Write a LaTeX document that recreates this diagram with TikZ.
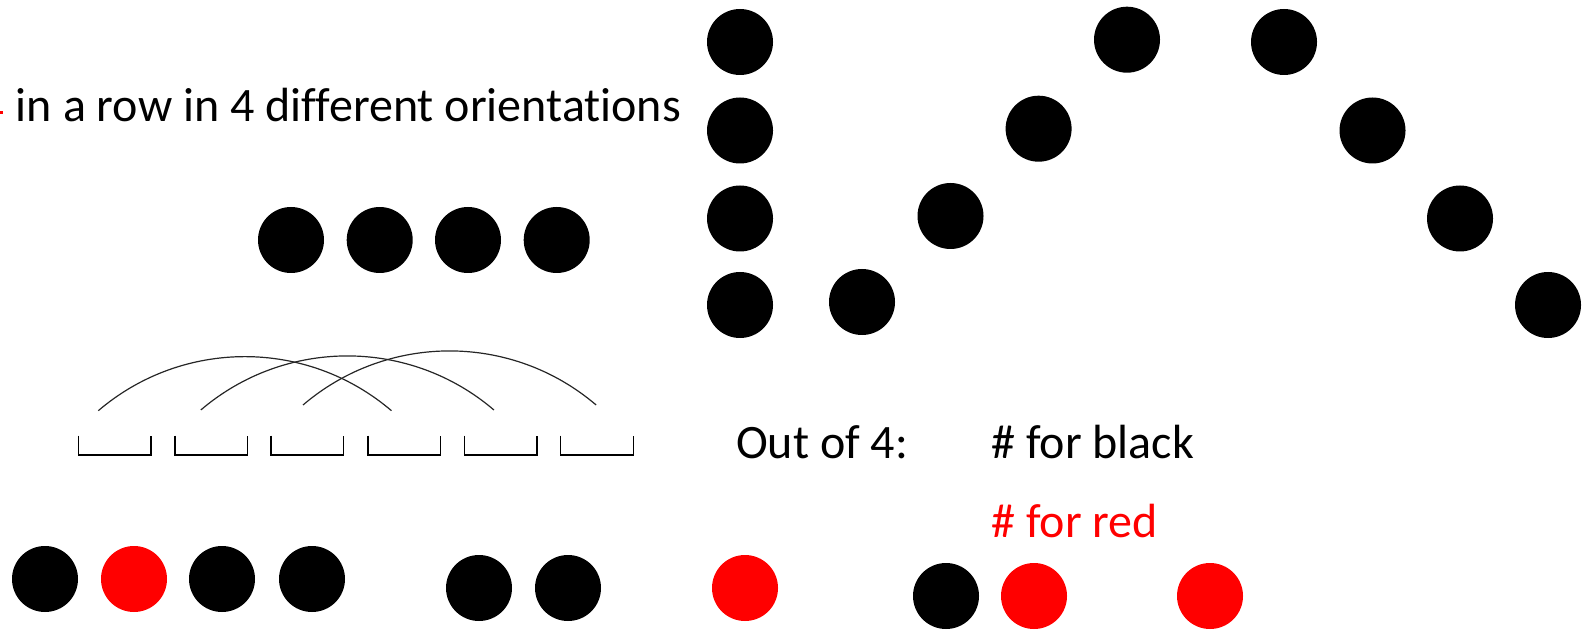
\documentclass[tikz,border=0pt]{standalone}
\usepackage{fontspec}
\setmainfont{Carlito}[Ligatures=NoCommon]
\definecolor{dotred}{RGB}{255,0,0}
\begin{document}
\begin{tikzpicture}[x=0.5pt,y=-0.5pt,
  dot/.style={circle,fill=black,minimum size=33pt,inner sep=0pt},
  reddot/.style={dot,fill=dotred},
  label/.style={inner sep=0pt,anchor=base west,font=\fontsize{24pt}{28pt}\selectfont},
  slot/.style={line width=0.75pt},
  hop/.style={line width=0.6pt,black!85}]
\useasboundingbox (0,0) rectangle (1582,630);

% tail of the red word that runs off the left edge
\fill[dotred] (0,111.5) rectangle (2.5,114);
\node[label] (heading) at (15.6,121.7) {in a row in 4 different orientations};

% four in a row, horizontal
\foreach \x [count=\i] in {291,379.7,468,556.7}
  \node[dot] (h\i) at (\x,240) {};

% vertical column
\foreach \y [count=\i] in {42,130.5,218.5,305}
  \node[dot] (v\i) at (740,\y) {};

% rising diagonal
\node[dot] (u1) at (862,302) {};
\node[dot] (u2) at (950.5,216) {};
\node[dot] (u3) at (1038.6,128.7) {};
\node[dot] (u4) at (1127,39.7) {};

% falling diagonal
\node[dot] (d1) at (1284,42) {};
\node[dot] (d2) at (1372.5,130.5) {};
\node[dot] (d3) at (1460,218.5) {};
\node[dot] (d4) at (1548,305) {};

% six open slots
\foreach \x [count=\i] in {78.4,174.8,271,368,464.5,560.6}{
  \coordinate (s\i a) at (\x,435.7);
  \coordinate (s\i b) at (\x+72.7,435.7);
  \draw[slot] (s\i a) -- ++(0,19.3) -| (s\i b);
}

% windows of four slots
\coordinate (w1) at (98.3,410.7);
\coordinate (w2) at (200.8,410);
\coordinate (w3) at (303,405);
\foreach \w in {w1,w2,w3}
  \draw[hop] (\w) arc[start angle=130.5,end angle=49.5,radius=112.85pt];

% counting labels
\node[label] (outof) at (735.7,458) {Out of 4:};
\node[label] (black) at (991,458) {\# for black};
\node[label,text=dotred] (red) at (991,537.3) {\# for red};

% bottom row
\node[dot] (b1) at (45,579) {};
\node[reddot] (b2) at (134,579) {};
\node[dot] (b3) at (222,579) {};
\node[dot] (b4) at (312,579) {};
\node[dot] (b5) at (479,588) {};
\node[dot] (b6) at (568,588) {};
\node[reddot] (b7) at (745,588) {};
\node[dot] (b8) at (946,596) {};
\node[reddot] (b9) at (1034,596) {};
\node[reddot] (b10) at (1210,596) {};
\end{tikzpicture}
\end{document}
